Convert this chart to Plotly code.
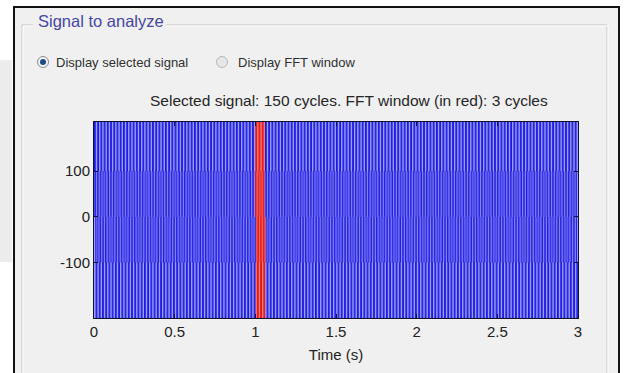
import numpy as np
import plotly.graph_objects as go

# ---- data -----------------------------------------------------------------
# one fundamental cycle of the multilevel staircase voltage (V), 20 samples
cycle_levels = [0, 100, 100, 208, 208, 208, 208, 208, 100, 100,
                0, -100, -100, -222, -222, -222, -222, -222, -100, -100]
n_cycles = 150          # selected signal: 150 cycles
f0 = 50.0               # fundamental frequency (Hz)
fft_start = 1.0         # FFT window start time (s)
fft_cycles = 3          # FFT window length in cycles

x_ticks = [0, 0.5, 1, 1.5, 2, 2.5, 3]
x_ticklabels = ["0", "0.5", "1", "1.5", "2", "2.5", "3"]
y_ticks = [-100, 0, 100]
y_ticklabels = ["-100", "0", "100"]

signal_title = "Selected signal: 150 cycles. FFT window (in red): 3 cycles"
panel_title = "Signal to analyze"
radio_labels = ["Display selected signal", "Display FFT window"]

# ---- build waveform -------------------------------------------------------
spc = len(cycle_levels)
v = np.tile(np.array(cycle_levels, dtype=float), n_cycles)
t = np.arange(v.size) / (f0 * spc)
fft_end = fft_start + fft_cycles / f0
win = (t >= fft_start) & (t <= fft_end)
v_sel = np.where((t > fft_start) & (t < fft_end), np.nan, v)

# ---- page geometry (pixels) ----------------------------------------------
W, H = 624, 373
PX0, PX1, PY0, PY1 = 94, 578, 122, 318   # plot area


def px(x):
    return (x - PX0) / (PX1 - PX0)


def py(y):
    return (PY1 - y) / (PY1 - PY0)


FONT = "Liberation Sans, Arial"

fig = go.Figure()
fig.add_trace(go.Scatter(x=t, y=v_sel, mode="lines", line_shape="hv",
                         line=dict(color="#0000d4", width=0.8),
                         connectgaps=False,
                         hoverinfo="skip", showlegend=False))
fig.add_trace(go.Scatter(x=t[win], y=v[win], mode="lines", line_shape="hv",
                         line=dict(color="#e00000", width=0.8),
                         hoverinfo="skip", showlegend=False))

shapes = []
# window frame
shapes.append(dict(type="rect", xref="paper", yref="paper", layer="below",
                   x0=px(14), x1=px(619), y0=py(385), y1=py(7),
                   fillcolor="#f0f0f0", line=dict(color="#111111", width=2)))
# left shadow outside the frame
shapes.append(dict(type="rect", xref="paper", yref="paper", layer="below",
                   x0=px(0), x1=px(12), y0=py(262), y1=py(60),
                   fillcolor="#ececec", line=dict(width=0)))
# etched group box
for dx, col in ((0, "#c4c4c4"), (1, "#ffffff")):
    shapes += [
        dict(type="line", xref="paper", yref="paper", layer="below",
             x0=px(22 + dx), x1=px(33), y0=py(25 + dx), y1=py(25 + dx),
             line=dict(color=col, width=1)),
        dict(type="line", xref="paper", yref="paper", layer="below",
             x0=px(166), x1=px(607 + dx), y0=py(25 + dx), y1=py(25 + dx),
             line=dict(color=col, width=1)),
        dict(type="line", xref="paper", yref="paper", layer="below",
             x0=px(22 + dx), x1=px(22 + dx), y0=py(25 + dx), y1=py(385),
             line=dict(color=col, width=1)),
        dict(type="line", xref="paper", yref="paper", layer="below",
             x0=px(607 + dx), x1=px(607 + dx), y0=py(25 + dx), y1=py(385),
             line=dict(color=col, width=1)),
    ]
# radio buttons
for cx, selected in ((43, True), (222, False)):
    shapes.append(dict(type="circle", xref="paper", yref="paper",
                       x0=px(cx - 5.5), x1=px(cx + 5.5),
                       y0=py(62 + 5.5), y1=py(62 - 5.5),
                       fillcolor="#f4f4f4" if selected else "#e6e6e6",
                       line=dict(color="#8a8a8a" if selected else "#b8b8b8",
                                 width=1)))
    if selected:
        shapes.append(dict(type="circle", xref="paper", yref="paper",
                           x0=px(cx - 3), x1=px(cx + 3),
                           y0=py(62 + 3), y1=py(62 - 3),
                           fillcolor="#1c4a86", line=dict(width=0)))
# axes background
shapes.append(dict(type="rect", xref="x domain", yref="y domain", layer="below",
                   x0=0, x1=1, y0=0, y1=1, fillcolor="#9a9aff",
                   line=dict(width=0)))
# FFT window band
shapes.append(dict(type="rect", xref="x", yref="y domain", layer="below",
                   x0=fft_start, x1=fft_end, y0=0, y1=1,
                   fillcolor="#f27a7a", line=dict(width=0)))

annotations = [
    dict(text=panel_title, xref="paper", yref="paper", x=px(36), y=py(21),
         xanchor="left", yanchor="middle", showarrow=False,
         font=dict(family=FONT, size=16.5, color="#4646a4")),
    dict(text=radio_labels[0], xref="paper", yref="paper", x=px(54), y=py(62),
         xanchor="left", yanchor="middle", showarrow=False,
         font=dict(family=FONT, size=13, color="#303030")),
    dict(text=radio_labels[1], xref="paper", yref="paper", x=px(236), y=py(62),
         xanchor="left", yanchor="middle", showarrow=False,
         font=dict(family=FONT, size=13, color="#303030")),
    dict(text=signal_title, xref="paper", yref="paper", x=px(349), y=py(101),
         xanchor="center", yanchor="middle", showarrow=False,
         font=dict(family=FONT, size=15.5, color="#262626")),
]

fig.update_layout(
    width=W, height=H,
    margin=dict(l=PX0, r=W - PX1, t=PY0, b=H - PY1),
    paper_bgcolor="#ffffff",
    plot_bgcolor="rgba(0,0,0,0)",
    shapes=shapes,
    annotations=annotations,
    showlegend=False,
    xaxis=dict(range=[0, 3], tickvals=x_ticks, ticktext=x_ticklabels,
               ticks="inside", ticklen=4, tickcolor="#111133",
               showline=True, linecolor="#111133", linewidth=1, mirror="ticks",
               showgrid=False, zeroline=False,
               tickfont=dict(family=FONT, size=15, color="#222222"),
               title=dict(text="Time (s)", standoff=10,
                           font=dict(family=FONT, size=15, color="#222222"))),
    yaxis=dict(range=[-222, 208], tickvals=y_ticks, ticktext=y_ticklabels,
               ticks="inside", ticklen=4, tickcolor="#111133",
               showline=True, linecolor="#111133", linewidth=1, mirror="ticks",
               showgrid=False, zeroline=False,
               tickfont=dict(family=FONT, size=15, color="#222222")),
)

fig.write_html("out.html")
